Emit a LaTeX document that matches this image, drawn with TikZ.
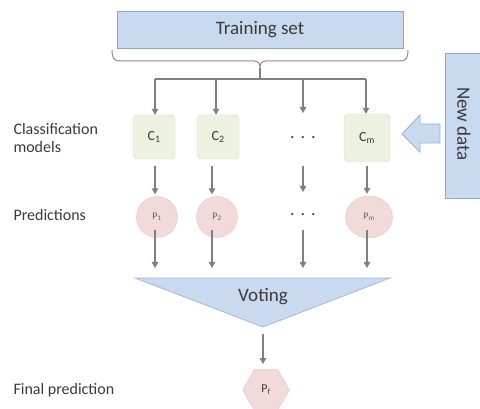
\documentclass[tikz,border=0pt]{standalone}
\usepackage{fontspec}
\setmainfont{Carlito}
\usetikzlibrary{arrows.meta,shapes.geometric}
\definecolor{boxblue}{HTML}{C9DAF0}
\definecolor{boxblueline}{HTML}{8FA8C6}
\definecolor{cfill}{HTML}{EDF1E0}
\definecolor{cline}{HTML}{D9DDCC}
\definecolor{pfill}{HTML}{F3DADA}
\definecolor{pline}{HTML}{E8C4C4}
\definecolor{arrgrey}{HTML}{7F7F7F}
\definecolor{txt}{HTML}{3A3A3A}
\tikzset{
  conn/.style={draw=arrgrey, line width=1.1pt, -{Triangle[width=6.5pt,length=6pt]}},
  cbox/.style={rectangle, rounded corners=4pt, fill=cfill, draw=cline, minimum width=42pt, minimum height=44pt, inner sep=0pt, font=\fontsize{14}{16}\selectfont, text=txt},
  pcirc/.style={ellipse, fill=pfill, draw=pline, minimum width=41pt, minimum height=41pt, inner sep=0pt, font=\fontsize{10}{12}\selectfont, text=txt!80},
  lbl/.style={anchor=west, font=\fontsize{16}{18}\selectfont, text=txt, align=left},
  dots/.style={font=\fontsize{18}{18}\selectfont, text=txt},
}
\begin{document}
\begin{tikzpicture}[x=1pt,y=-1pt]
\useasboundingbox (0,0) rectangle (480,409);
% Training set
\node[rectangle, fill=boxblue, draw=boxblueline, line width=0.8pt, minimum width=286pt, minimum height=37pt, inner sep=0pt, font=\fontsize{19}{21}\selectfont, text=txt] (train) at (260,30) {Training set};
% brace
\draw[draw=arrgrey!90, line width=1pt] (112,50) .. controls (112,58) and (114,61) .. (120,61) -- (254,61) .. controls (258,61) and (260,63) .. (260,68)
  .. controls (260,63) and (262,61) .. (266,61) -- (400,61) .. controls (406,61) and (408,58) .. (408,50);
\coordinate (bt) at (260,68);
\coordinate (bb) at (260,79);
\coordinate (h1) at (155,79);
\coordinate (h2) at (216,79);
\coordinate (h3) at (303,79);
\coordinate (h4) at (366,79);
\draw[draw=arrgrey, line width=1.1pt] (bt) -- (bb);
\draw[draw=arrgrey, line width=1.1pt] (h1) -- (h4);
% classifiers
\node[cbox] (c1) at (154,137) {C\textsubscript{1}};
\node[cbox] (c2) at (218,137) {C\textsubscript{2}};
\node[dots] (cd) at (303,138) {.\,\,.\,\,.};
\node[cbox, minimum width=46pt, minimum height=48pt] (cm) at (367,138) {C\textsubscript{m}};
\coordinate (cdt) at (303,113);
\draw[conn] (h1) -- (c1.north -| h1);
\draw[conn] (h2) -- (c2.north -| h2);
\draw[conn] (h3) -- (cdt);
\draw[conn] (h4) -- (cm.north -| h4);
% predictions
\node[pcirc] (p1) at (157,217) {P\textsubscript{1}};
\node[pcirc] (p2) at (217,217) {P\textsubscript{2}};
\node[dots] (pd) at (303,215) {.\,\,.\,\,.};
\node[pcirc, minimum width=47pt, minimum height=42pt] (pm) at (369,217) {P\textsubscript{m}};
\coordinate (s1) at (155,166);
\coordinate (s2) at (212,166);
\coordinate (s3) at (303,166);
\coordinate (s4) at (367,166);
\coordinate (pdt) at (303,192);
\draw[conn] (s1) -- ([yshift=2pt]p1.north -| s1);
\draw[conn] (s2) -- ([yshift=2pt]p2.north -| s2);
\draw[conn] (s3) -- (pdt);
\draw[conn] (s4) -- ([yshift=2pt]pm.north -| s4);
% voting
\coordinate (vl) at (135,278);
\coordinate (vr) at (390,278);
\coordinate (vb) at (263,327);
\draw[fill=boxblue, draw=boxblueline!80, line width=0.8pt] (vl) -- (vr) -- (vb) -- cycle;
\node[font=\fontsize{19}{21}\selectfont, text=txt] (voting) at (263,297) {Voting};
\coordinate (u1) at (155,230);
\coordinate (u2) at (212,230);
\coordinate (u3) at (303,230);
\coordinate (u4) at (367,230);
\coordinate (t1) at (155,268);
\coordinate (t2) at (212,268);
\coordinate (t3) at (303,268);
\coordinate (t4) at (367,268);
\draw[conn] (u1) -- (t1);
\draw[conn] (u2) -- (t2);
\draw[conn] (u3) -- (t3);
\draw[conn] (u4) -- (t4);
% final prediction
\node[regular polygon, regular polygon sides=6, minimum size=47pt, inner sep=0pt, fill=pfill, draw=pline, font=\fontsize{12}{14}\selectfont, text=txt] (pf) at (266,390) {P\textsubscript{f}};
\coordinate (vs) at (263,334);
\coordinate (pft) at (263,364);
\draw[conn] (vs) -- (pft);
% new data
\draw[fill=boxblue, draw=boxblueline, line width=0.8pt] (445,53) rectangle (486,198);
\node[rotate=-90, font=\fontsize{19}{21}\selectfont, text=txt] (newdata) at (464,124) {New data};
\draw[fill=boxblue, draw=boxblueline!90, line width=0.9pt] (402,134) -- (420,115) -- (420,124) -- (440,124) -- (440,143) -- (420,143) -- (420,152) -- cycle;
% labels
\node[lbl] (lcls) at (10,138) {Classification\\models};
\node[lbl] (lpred) at (10,215) {Predictions};
\node[lbl] (lfin) at (10,390) {Final prediction};
\end{tikzpicture}
\end{document}
